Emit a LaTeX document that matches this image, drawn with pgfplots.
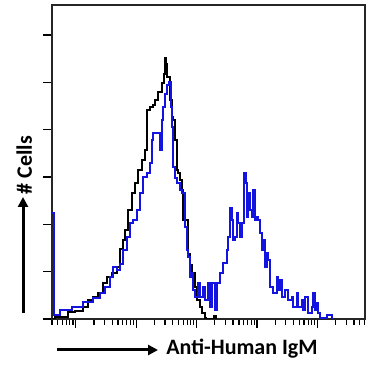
\documentclass[border=0pt]{standalone}
\usepackage{pgfplots}
\pgfplotsset{compat=1.18}
\usepackage{fontspec}
\setmainfont{Carlito}
\usetikzlibrary{arrows.meta}
\definecolor{histblue}{RGB}{20,20,225}

% x: channel position (pixels of the log scale), y: count (pixels)
\pgfplotstableread{
x y
52 0
55 2
68 7
75 8
83 12
88 19
93 22
98 26
103 36
107 42
112 46
117 52
120 70
123 79
125 89
128 109
132 126
135 136
138 149
142 159
145 169
147 209
150 212
153 214
155 219
158 227
162 236
164 245
165 261
166 255
167 242
170 219
172 202
173 199
175 179
177 149
178 146
180 139
182 129
183 99
185 99
188 65
190 54
192 46
195 32
197 19
200 12
202 6
205 1
206 0
214 3
216 0
}\control

\pgfplotstableread{
x y
52 106
54 4
60 9
72 12
83 17
88 17
93 21
100 26
105 32
110 42
113 52
117 49
120 55
123 69
127 82
130 96
133 99
137 109
140 126
143 142
147 146
150 156
152 179
153 186
157 186
160 169
162 199
163 212
165 225
167 234
169 237
171 212
172 192
173 152
175 141
177 136
180 129
182 126
185 92
187 69
188 62
190 42
192 46
193 29
195 22
198 36
200 22
203 32
205 19
208 36
210 12
212 36
215 9
217 36
220 46
223 56
227 69
228 82
230 111
232 99
233 79
235 82
237 106
238 96
240 82
242 96
244 146
246 136
247 102
248 126
250 109
252 102
253 129
255 99
257 102
258 99
260 86
262 69
263 79
265 52
267 66
268 59
270 32
273 26
277 42
278 29
280 39
282 22
285 29
288 19
292 22
293 12
297 26
298 12
302 19
303 9
305 22
308 6
312 12
313 26
315 9
317 16
318 6
320 1
327 4
332 0
}\sample

\begin{document}
\begin{tikzpicture}
\useasboundingbox (0pt,0pt) rectangle (375pt,377pt);
\begin{axis}[
  at={(52pt,58pt)}, anchor=south west,
  width=313pt, height=314pt, scale only axis,
  xmin=52, xmax=365, ymin=0, ymax=314,
  axis line style={line width=1.4pt, black!85},
  xtick={75.7,136.15,196.6,257.05,317.5},
  minor xtick={52,57.55,62.25,66.35,69.85,72.95,
    93.9,104.5,112.1,118.0,122.7,126.8,130.3,133.4,
    154.35,164.95,172.55,178.45,183.15,187.25,190.75,193.85,
    214.8,225.4,233.0,238.9,243.6,247.7,251.2,254.3,
    275.25,285.85,293.45,299.35,304.05,308.15,311.65,314.75,
    335.7,346.3,353.9,359.8,364.5},
  ytick={0,47.3,94.7,142,189.3,236.7,284},
  xticklabels={}, yticklabels={},
  xtick pos=bottom, ytick pos=left,
  tick align=outside,
  major tick length=9pt, minor tick length=6pt,
  every tick/.style={black, line width=1.2pt},
  xlabel={\bfseries\fontsize{22}{25}\selectfont Anti-Human IgM},
  ylabel={\bfseries\fontsize{22}{25}\selectfont \# Cells},
  xlabel style={at={(axis description cs:0.607,0)}, anchor=base, yshift=-36pt},
  ylabel style={at={(axis description cs:-0.064,0.49)}, anchor=base, rotate=0},
]
\addplot[const plot mark left, black, line width=1.3pt] table[x=x,y=y] {\control};
\addplot[const plot mark left, histblue, line width=1.3pt] table[x=x,y=y] {\sample};
\end{axis}
\draw[line width=3pt, -{Triangle[length=10pt,width=10pt]}] (57pt,27pt) -- (158pt,27pt);
\draw[line width=3pt, -{Triangle[length=10pt,width=10pt]}] (23pt,64pt) -- (23pt,180pt);
\end{tikzpicture}
\end{document}
